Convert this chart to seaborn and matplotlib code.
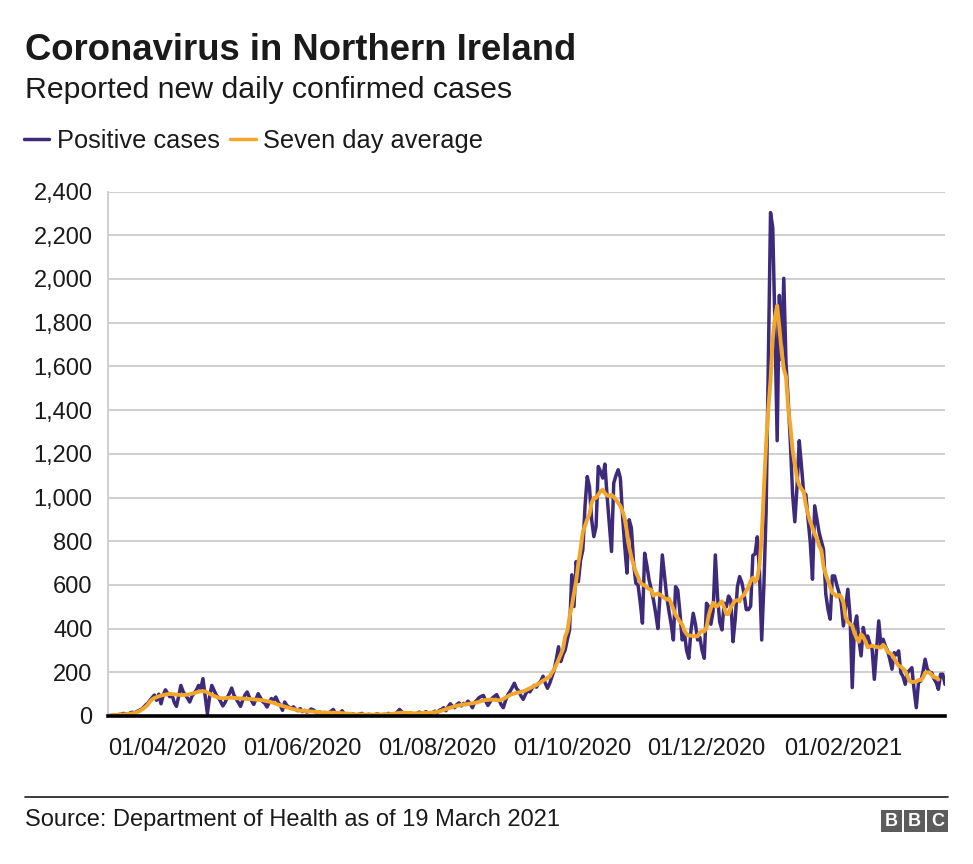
import matplotlib
matplotlib.use('Agg')
import matplotlib.pyplot as plt
from matplotlib.lines import Line2D
from matplotlib.patches import Rectangle
from matplotlib.ticker import FuncFormatter
import seaborn as sns
import pandas as pd

# daily positive cases, one value per day from 05/03/2020 to 19/03/2021
positive_cases = [
    1, 2, 3, 4, 5, 7, 8, 12, 9, 6,
    14, 17, 15, 20, 25, 30, 38, 50, 58, 72,
    84, 96, 72, 100, 56, 95, 120, 104, 88, 96,
    62, 44, 90, 140, 112, 96, 82, 64, 90, 105,
    118, 140, 125, 171, 92, 11, 88, 140, 118, 96,
    84, 66, 46, 62, 85, 104, 128, 96, 80, 62,
    44, 72, 96, 110, 86, 70, 53, 78, 102, 84,
    66, 58, 41, 62, 80, 72, 87, 64, 50, 26,
    64, 48, 40, 36, 42, 30, 24, 34, 20, 26,
    18, 22, 32, 28, 20, 14, 18, 12, 16, 10,
    14, 22, 30, 12, 8, 14, 24, 10, 6, 8,
    5, 10, 4, 6, 9, 12, 3, 5, 8, 6,
    4, 7, 10, 5, 3, 8, 6, 12, 9, 5,
    10, 18, 30, 20, 8, 12, 6, 14, 10, 7,
    12, 18, 9, 14, 20, 10, 8, 16, 22, 14,
    26, 30, 38, 24, 42, 56, 44, 38, 53, 60,
    46, 58, 52, 68, 56, 38, 62, 72, 84, 90,
    94, 70, 48, 64, 82, 90, 98, 76, 52, 38,
    70, 96, 112, 130, 150, 126, 114, 92, 76, 98,
    118, 110, 126, 140, 132, 150, 160, 182, 150, 127,
    149, 180, 210, 260, 317, 249, 280, 302, 350, 394,
    646, 501, 707, 615, 714, 760, 960, 1096, 1050, 898,
    821, 867, 1142, 1119, 1089, 1153, 1005, 880, 753, 1066,
    1100, 1127, 1089, 913, 775, 654, 898, 860, 699, 608,
    600, 520, 425, 745, 690, 623, 580, 531, 470, 400,
    560, 737, 640, 546, 480, 420, 348, 592, 576, 470,
    348, 380, 300, 264, 394, 470, 420, 348, 360, 300,
    264, 516, 500, 420, 480, 737, 546, 430, 394, 516,
    500, 549, 531, 340, 441, 592, 638, 611, 560, 487,
    487, 503, 735, 742, 820, 657, 348, 600, 935, 1631,
    2304, 2235, 1786, 1260, 1925, 1631, 2003, 1616, 1446, 1245,
    1013, 889, 1050, 1260, 1145, 1023, 1013, 900, 794, 626,
    962, 900, 840, 800, 763, 560, 489, 443, 641, 641,
    600, 565, 519, 412, 500, 580, 458, 130, 412, 458,
    350, 275, 405, 351, 366, 330, 305, 168, 300, 435,
    321, 351, 320, 298, 260, 214, 290, 280, 298, 198,
    180, 145, 198, 210, 221, 120, 38, 153, 160, 200,
    260, 214, 200, 198, 170, 153, 122, 191, 191, 145,
]

# seven day average as drawn (ends three days before the last daily value)
seven_day_avg = [
    2, 2, 3, 4, 5, 6, 6, 7, 8, 9,
    10, 12, 14, 17, 21, 27, 34, 42, 52, 66,
    76, 82, 86, 90, 93, 96, 98, 100, 101, 100,
    99, 98, 97, 96, 96, 97, 98, 100, 102, 105,
    108, 111, 113, 114, 112, 108, 102, 96, 92, 88,
    84, 82, 81, 82, 83, 84, 84, 83, 82, 81,
    80, 80, 79, 78, 78, 77, 76, 75, 74, 73,
    72, 70, 68, 66, 63, 60, 56, 52, 49, 46,
    43, 40, 37, 34, 31, 29, 27, 25, 24, 23,
    22, 21, 21, 20, 19, 18, 17, 16, 16, 15,
    15, 15, 15, 15, 14, 14, 13, 12, 11, 10,
    9, 8, 7, 7, 7, 7, 7, 6, 6, 6,
    6, 6, 7, 7, 7, 7, 7, 8, 9, 10,
    11, 13, 14, 15, 15, 15, 14, 13, 12, 12,
    12, 13, 13, 14, 14, 14, 15, 16, 17, 19,
    21, 24, 28, 31, 35, 38, 41, 44, 47, 49,
    51, 53, 54, 55, 57, 58, 60, 62, 65, 68,
    71, 73, 74, 75, 75, 74, 73, 72, 74, 78,
    84, 90, 96, 100, 103, 106, 108, 110, 113, 117,
    122, 127, 132, 137, 142, 148, 155, 162, 168, 175,
    180, 199, 213, 235, 257, 281, 307, 363, 389, 454,
    502, 561, 620, 700, 765, 843, 870, 900, 922, 976,
    999, 998, 1013, 1028, 1036, 1020, 1009, 1007, 1012, 1003,
    990, 975, 961, 937, 902, 841, 772, 728, 691, 659,
    637, 612, 602, 598, 588, 581, 577, 551, 557, 560,
    555, 548, 540, 533, 538, 515, 490, 462, 448, 431,
    419, 390, 375, 368, 368, 365, 365, 365, 383, 387,
    387, 406, 460, 495, 518, 501, 503, 515, 525, 495,
    466, 467, 496, 513, 529, 530, 524, 545, 554, 574,
    589, 619, 633, 613, 629, 691, 819, 1042, 1244, 1406,
    1536, 1725, 1825, 1878, 1779, 1667, 1589, 1554, 1406, 1323,
    1217, 1150, 1089, 1056, 1040, 1026, 966, 923, 888, 862,
    832, 812, 779, 759, 685, 648, 620, 591, 563, 557,
    546, 554, 545, 519, 452, 430, 421, 413, 380, 355,
    340, 374, 362, 340, 314, 318, 322, 318, 316, 314,
    313, 326, 314, 293, 288, 280, 263, 246, 229, 227,
    216, 207, 182, 159, 155, 157, 157, 165, 164, 175,
    198, 200, 199, 188, 178, 175, 167,
]

start_date = '2020-03-05'
tick_dates = ['2020-04-01', '2020-06-01', '2020-08-01', '2020-10-01', '2020-12-01', '2021-02-01']
tick_labels = ['01/04/2020', '01/06/2020', '01/08/2020', '01/10/2020', '01/12/2020', '01/02/2021']
y_ticks = list(range(0, 2401, 200))

PURPLE = '#3d2a7b'
ORANGE = '#f2a72b'

daily = pd.DataFrame({
    'date': pd.date_range(start_date, periods=len(positive_cases), freq='D'),
    'cases': positive_cases,
})
avg = pd.DataFrame({
    'date': pd.date_range(start_date, periods=len(seven_day_avg), freq='D'),
    'avg': seven_day_avg,
})

sns.set_style('white')
plt.rcParams['font.family'] = ['Liberation Sans', 'DejaVu Sans']

W, H = 973, 864
fig = plt.figure(figsize=(W / 100, H / 100), dpi=100)
ax = fig.add_axes([108 / W, 1 - 716 / H, (945 - 108) / W, (716 - 191.6) / H])

sns.lineplot(data=daily, x='date', y='cases', color=PURPLE, lw=2.5, ax=ax, zorder=3)
sns.lineplot(data=avg, x='date', y='avg', color=ORANGE, lw=2.8, ax=ax, zorder=4)

ax.set_xlim(daily['date'].iloc[0], daily['date'].iloc[-1])
ax.set_ylim(0, 2400)
ax.set_yticks(y_ticks)
ax.yaxis.set_major_formatter(FuncFormatter(lambda v, p: f'{v:,.0f}'))
ax.set_xticks(pd.to_datetime(tick_dates))
ax.set_xticklabels(tick_labels)
ax.set_xlabel('')
ax.set_ylabel('')

ax.grid(axis='y', color='#cccccc', lw=1.3)
ax.grid(axis='x', visible=False)
ax.set_axisbelow(True)
for s in ['top', 'right']:
    ax.spines[s].set_visible(False)
ax.spines['left'].set_color('#cccccc')
ax.spines['left'].set_linewidth(1.3)
ax.spines['bottom'].set_color('black')
ax.spines['bottom'].set_linewidth(2.6)
ax.spines['bottom'].set_zorder(5)

ax.tick_params(axis='y', length=6, width=1.3, color='#cccccc', pad=5, labelsize=17, labelcolor='#1a1a1a')
ax.tick_params(axis='x', length=0, pad=16, labelsize=17, labelcolor='#1a1a1a')

# titles
fig.text(25 / W, 1 - 60 / H, 'Coronavirus in Northern Ireland', fontsize=26.3, fontweight='bold',
         color='#1a1a1a', va='baseline')
fig.text(25 / W, 1 - 98 / H, 'Reported new daily confirmed cases', fontsize=21.8,
         color='#1a1a1a', va='baseline')

# legend
handles = [Line2D([0], [0], color=PURPLE, lw=2.5), Line2D([0], [0], color=ORANGE, lw=2.5)]
fig.legend(handles, ['Positive cases', 'Seven day average'], loc='center left',
           bbox_to_anchor=(24 / W, 1 - 141 / H), ncol=2, frameon=False, fontsize=18.3,
           handlelength=1.0, handletextpad=0.3, columnspacing=0.4, borderpad=0,
           borderaxespad=0, labelcolor='#1a1a1a')

# footer
fig.add_artist(Line2D([25 / W, 948 / W], [1 - 797 / H, 1 - 797 / H], color='#1a1a1a', lw=1.2))
fig.text(25 / W, 1 - 820 / H, 'Source: Department of Health as of 19 March 2021',
         fontsize=17, color='#1a1a1a', va='center')
for i, letter in enumerate('BBC'):
    x0 = 881 + i * 23
    fig.add_artist(Rectangle((x0 / W, 1 - 832 / H), 21 / W, 22 / H, transform=fig.transFigure,
                             facecolor='#5c5c5c', edgecolor='none'))
    fig.text((x0 + 10.5) / W, 1 - 821 / H, letter, color='white', fontsize=13,
             fontweight='bold', ha='center', va='center')

fig.savefig('out.png', dpi=100)
